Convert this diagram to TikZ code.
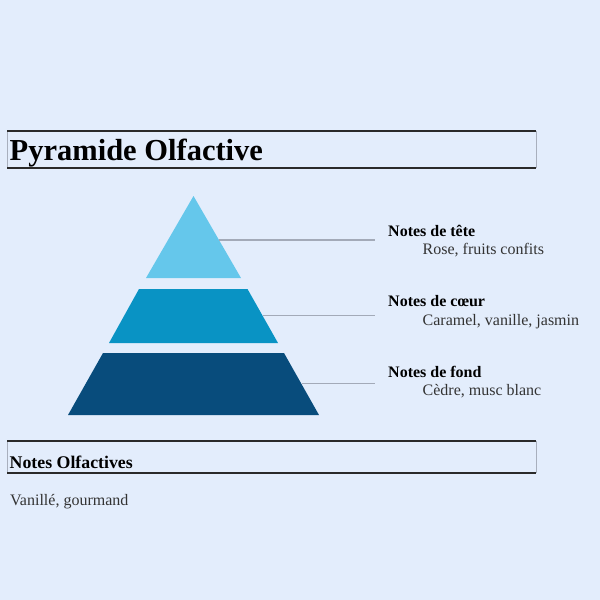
\documentclass[tikz,border=0pt]{standalone}
\usepackage{fontspec}
\setmainfont{Liberation Serif}
\definecolor{bg}{HTML}{E3EDFC}
\definecolor{tier1}{HTML}{65C7EB}
\definecolor{tier2}{HTML}{0993C4}
\definecolor{tier3}{HTML}{084C7C}
\definecolor{leader}{HTML}{A3AAB8}
\definecolor{txt}{HTML}{333333}
\definecolor{edge}{HTML}{2A2A2A}
\definecolor{side}{HTML}{A8AFBD}
\tikzset{
  headfont/.style={font=\fontsize{16}{19}\selectfont\bfseries, text=black, anchor=base west, inner sep=0pt},
  subfont/.style={font=\fontsize{16}{19}\selectfont, text=txt, anchor=base west, inner sep=0pt},
  leaderline/.style={draw=leader, line width=1.2pt},
  hrule/.style={draw=edge, line width=2pt},
  vrule/.style={draw=side, line width=1pt},
}
\begin{document}
\begin{tikzpicture}[x=1pt,y=-1pt]
\fill[bg] (0,0) rectangle (600,600);
\useasboundingbox (0,0) rectangle (600,600);
% title box
\draw[vrule] (7,131) -- (7,168);
\draw[vrule] (536,131) -- (536,168);
\draw[hrule] (7,131) -- (536,131);
\draw[hrule] (7,168) -- (536,168);
\node[anchor=base west, inner sep=0pt, font=\fontsize{30.5}{36}\selectfont\bfseries] (title) at (9.5,160) {Pyramide Olfactive};
% pyramid
\fill[tier1] (193.5,196) -- (241,278) -- (146,278) -- cycle;
\fill[tier2] (139,289) -- (247.5,289) -- (278,343) -- (109,343) -- cycle;
\fill[tier3] (103,353) -- (284,353) -- (319,415) -- (68,415) -- cycle;
\coordinate (e1) at (219,240);
\coordinate (e2) at (263,315.5);
\coordinate (e3) at (302,383.5);
\coordinate (r1) at (375,240);
\coordinate (r2) at (375,315.5);
\coordinate (r3) at (375,383.5);
\draw[leaderline] (e1) -- (r1);
\draw[leaderline] (e2) -- (r2);
\draw[leaderline] (e3) -- (r3);
% labels
\node[headfont] (h1) at (388,236) {Notes de tête};
\node[subfont] (s1) at (422.5,254) {Rose, fruits confits};
\node[headfont] (h2) at (388,306.5) {Notes de cœur};
\node[subfont] (s2) at (422.5,325) {Caramel, vanille, jasmin};
\node[headfont] (h3) at (388,377.5) {Notes de fond};
\node[subfont] (s3) at (422.5,395.5) {Cèdre, musc blanc};
% bottom box
\draw[vrule] (7,441) -- (7,472.5);
\draw[vrule] (536,441) -- (536,472.5);
\draw[hrule] (7,441) -- (536,441);
\draw[hrule] (7,472.5) -- (536,472.5);
\node[anchor=base west, inner sep=0pt, font=\fontsize{17.8}{21}\selectfont\bfseries] (sec) at (9.5,468) {Notes Olfactives};
\node[subfont] (desc) at (10,505) {Vanillé, gourmand};
\end{tikzpicture}
\end{document}
